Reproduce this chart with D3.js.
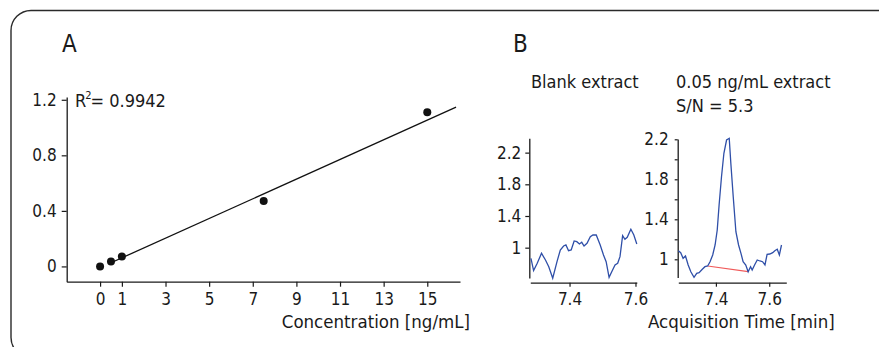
<!DOCTYPE html>
<html>
<head>
<meta charset="utf-8">
<script src="https://cdn.jsdelivr.net/npm/d3@7"></script>
<style>
  body { margin: 0; background: #fff; }
  text { font-family: "DejaVu Sans Condensed", "Liberation Sans Narrow", "Arial Narrow", sans-serif; fill: #1a1a1a; }
</style>
</head>
<body>
<script>
const w = 879;
const h = 347;

// panel A: calibration curve
const concentrations = [0, 0.5, 1, 7.5, 15];
const responses = [0, 0.035, 0.072, 0.472, 1.11];
const fitSlope = 0.0708;
const fitIntercept = -0.009;
const fitRange = [0.5, 16.32];
const xTicksA = [0, 1, 3, 5, 7, 9, 11, 13, 15];
const yTicksA = [0, 0.4, 0.8, 1.2];

// panel B: chromatograms
const blankTimes = [7.283, 7.291, 7.302, 7.315, 7.327, 7.337, 7.349, 7.362, 7.372, 7.382, 7.389, 7.397,
  7.405, 7.414, 7.422, 7.430, 7.437, 7.444, 7.453, 7.463, 7.471, 7.481, 7.493, 7.503, 7.511, 7.520,
  7.528, 7.538, 7.546, 7.553, 7.561, 7.568, 7.575, 7.586, 7.595, 7.604];
const blankValues = [0.866, 0.71, 0.803, 0.929, 0.845, 0.76, 0.614, 0.823, 0.971, 1.021, 1.034, 0.962,
  0.971, 1.085, 1.076, 1.047, 1.068, 1.021, 1.056, 1.139, 1.16, 1.16, 1.034, 0.908, 0.823, 0.626,
  0.697, 0.782, 0.803, 0.886, 1.152, 1.106, 1.131, 1.232, 1.16, 1.047];
const sampleTimes = [7.259, 7.268, 7.277, 7.286, 7.296, 7.306, 7.318, 7.328, 7.337, 7.349, 7.359, 7.369,
  7.378, 7.388, 7.397, 7.405, 7.412, 7.421, 7.430, 7.440, 7.450, 7.456, 7.465, 7.475, 7.485, 7.494,
  7.502, 7.512, 7.521, 7.530, 7.536, 7.545, 7.555, 7.565, 7.575, 7.584, 7.592, 7.602, 7.613, 7.621,
  7.630, 7.638, 7.646];
const sampleValues = [1.086, 1.066, 1.01, 1.033, 0.943, 0.876, 0.82, 0.86, 0.866, 0.9, 0.926, 0.933,
  0.976, 1.043, 1.143, 1.293, 1.543, 1.826, 2.06, 2.193, 2.21, 1.96, 1.626, 1.276, 1.143, 1.06,
  0.976, 0.943, 0.876, 0.926, 0.893, 0.943, 0.993, 0.983, 0.976, 0.943, 1.05, 1.053, 1.066, 1.086,
  1.10, 1.043, 1.143];
const baselineTimes = [7.369, 7.521];
const baselineValues = [0.933, 0.876];
const xTicksB = [7.4, 7.6];
const yTicksB = [1, 1.4, 1.8, 2.2];
const yMinorTicksB = [1, 1.2, 1.4, 1.6, 1.8, 2.0, 2.2];

const fmt = (d) => String(+d.toFixed(1));
const tickFont = 17;
const labelFont = 18.5;

const svg = d3.select('body')
    .append('svg')
    .attr('width', w)
    .attr('height', h);

// frame
svg.append('rect')
    .attr('x', 11)
    .attr('y', 10.5)
    .attr('width', 900)
    .attr('height', 347)
    .attr('rx', 20)
    .attr('fill', 'none')
    .attr('stroke', '#2a2a2a')
    .attr('stroke-width', 1.4);

function styleAxis(g) {
    g.attr('font-family', null).attr('font-size', null);
    g.selectAll('path.domain').attr('stroke', '#1a1a1a').attr('stroke-width', 1.3);
    g.selectAll('.tick line').attr('stroke', '#1a1a1a').attr('stroke-width', 1.2);
    g.selectAll('.tick text')
        .attr('font-size', tickFont)
        .attr('fill', '#1a1a1a');
}

// ---------- panel A ----------
const xA = d3.scaleLinear().domain([-1.53, 16.5]).range([66.7, 460]);
const yA = d3.scaleLinear().domain([-0.11, 1.22]).range([281.7, 97]);

svg.append('text').text('A')
    .attr('x', 62).attr('y', 52)
    .attr('font-size', 24);

svg.append('g')
    .attr('transform', 'translate(0,281.7)')
    .call(d3.axisBottom(xA).tickValues(xTicksA).tickSize(5).tickSizeOuter(0).tickPadding(6).tickFormat(d3.format('d')))
    .call(styleAxis);

svg.append('g')
    .attr('transform', 'translate(66.7,0)')
    .call(d3.axisLeft(yA).tickValues(yTicksA).tickSize(5).tickSizeOuter(0).tickPadding(5).tickFormat(fmt))
    .call(styleAxis);

svg.append('line')
    .attr('x1', xA(fitRange[0]))
    .attr('y1', yA(fitSlope * fitRange[0] + fitIntercept))
    .attr('x2', xA(fitRange[1]))
    .attr('y2', yA(fitSlope * fitRange[1] + fitIntercept))
    .attr('stroke', '#111')
    .attr('stroke-width', 1.3);

svg.selectAll('circle.pt')
    .data(concentrations)
    .enter()
    .append('circle')
    .attr('class', 'pt')
    .attr('cx', (d) => xA(d))
    .attr('cy', (d, i) => yA(responses[i]))
    .attr('r', 4)
    .attr('fill', '#111');

const r2 = svg.append('text')
    .attr('x', 75).attr('y', 107)
    .attr('font-size', 18);
r2.append('tspan').text('R');
r2.append('tspan').text('2').attr('font-size', 11).attr('dx', -1).attr('dy', -8);
r2.append('tspan').text('= 0.9942').attr('dx', -1).attr('dy', 8);

svg.append('text').text('Concentration [ng/mL]')
    .attr('x', 470).attr('y', 328)
    .attr('text-anchor', 'end')
    .attr('font-size', labelFont);

// ---------- panel B ----------
svg.append('text').text('B')
    .attr('x', 513).attr('y', 52)
    .attr('font-size', 24);

svg.append('text').text('Blank extract')
    .attr('x', 531).attr('y', 88)
    .attr('font-size', 18);
svg.append('text').text('0.05 ng/mL extract')
    .attr('x', 676).attr('y', 88)
    .attr('font-size', 18);
svg.append('text').text('S/N = 5.3')
    .attr('x', 676).attr('y', 112)
    .attr('font-size', 18);

// blank
const xB1 = d3.scaleLinear().domain([7.281, 7.604]).range([530.3, 636.8]);
const yB1 = d3.scaleLinear().domain([0.617, 2.381]).range([278, 138.3]);

svg.append('g')
    .attr('transform', 'translate(0,282.7)')
    .call(d3.axisBottom(xB1).tickValues(xTicksB).tickSize(4).tickSizeOuter(0).tickPadding(6).tickFormat(fmt))
    .call(styleAxis);

svg.append('g')
    .attr('transform', 'translate(529.3,0)')
    .call(d3.axisLeft(yB1).tickValues(yTicksB).tickSize(4).tickSizeOuter(0).tickPadding(4).tickFormat(fmt))
    .call(styleAxis);

const lineB1 = d3.line().x((d) => xB1(d[0])).y((d) => yB1(d[1]));
svg.append('path')
    .datum(d3.zip(blankTimes, blankValues))
    .attr('d', lineB1)
    .attr('fill', 'none')
    .attr('stroke', '#2f4fa8')
    .attr('stroke-width', 1.3);

// sample
const xB2 = d3.scaleLinear().domain([7.259, 7.664]).range([678.3, 786.3]);
const yB2 = d3.scaleLinear().domain([0.817, 2.203]).range([277.6, 139]);

svg.append('g')
    .attr('transform', 'translate(0,282.7)')
    .call(d3.axisBottom(xB2).tickValues(xTicksB).tickSize(4).tickSizeOuter(0).tickPadding(6).tickFormat(fmt))
    .call(styleAxis);

svg.append('g')
    .attr('transform', 'translate(677.7,0)')
    .call(d3.axisLeft(yB2).tickValues(yMinorTicksB).tickSize(3).tickSizeOuter(0)
        .tickPadding(6).tickFormat((d) => yTicksB.some((t) => Math.abs(t - d) < 1e-6) ? fmt(d) : ''))
    .call(styleAxis);

const lineB2 = d3.line().x((d) => xB2(d[0])).y((d) => yB2(d[1]));
svg.append('path')
    .datum(d3.zip(baselineTimes, baselineValues))
    .attr('d', lineB2)
    .attr('fill', 'none')
    .attr('stroke', '#f05a5a')
    .attr('stroke-width', 1.2);
svg.append('path')
    .datum(d3.zip(sampleTimes, sampleValues))
    .attr('d', lineB2)
    .attr('fill', 'none')
    .attr('stroke', '#2f4fa8')
    .attr('stroke-width', 1.3);

svg.append('text').text('Acquisition Time [min]')
    .attr('x', 648).attr('y', 328)
    .attr('font-size', labelFont);
</script>
</body>
</html>
